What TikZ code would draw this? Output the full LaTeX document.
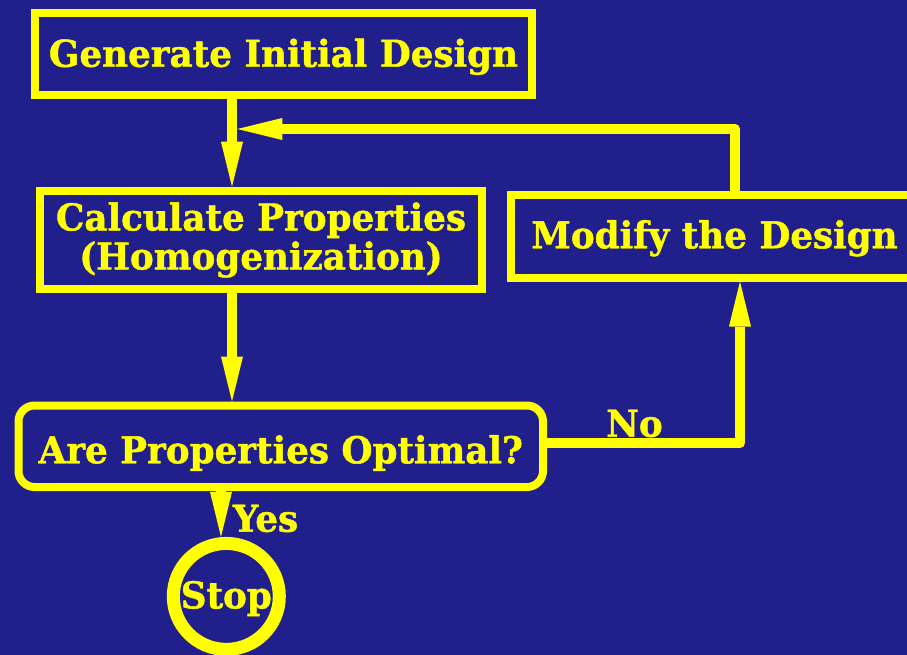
\documentclass[tikz,border=0pt]{standalone}
\usepackage{fontspec}
\setmainfont{DejaVu Serif}[FakeStretch=0.965, BoldFeatures={FakeBold=1.2}]
\usetikzlibrary{arrows.meta}
\definecolor{bgblue}{RGB}{33,31,140}
\definecolor{ylw}{RGB}{255,255,0}
\tikzset{
  lbl/.style={text=ylw, font=\bfseries\fontsize{37}{39}\selectfont, inner sep=0pt},
  boxnode/.style={lbl, draw=ylw, line width=8pt, rectangle, align=center},
  conn/.style={draw=ylw, line width=10.5pt, line join=round,
    -{Triangle[length=45pt,width=22pt,line width=0pt]}},
}
\begin{document}
\begin{tikzpicture}[x=1pt,y=-1pt]
\fill[bgblue] (0,0) rectangle (907,655);
\useasboundingbox (0,0) rectangle (907,655);

\node[boxnode, minimum width=497pt, minimum height=82.5pt, text height=32pt, text depth=7pt] (gen) at (283.5,54.25) {Generate Initial Design};
\node[boxnode, minimum width=442pt, minimum height=98.5pt] (calc) at (261,240) {Calculate Properties\\(Homogenization)};
\node[boxnode, minimum width=407pt, minimum height=82.5pt, text height=31pt, text depth=7pt] (mod) at (714.5,236.25) {Modify the Design};
\node[boxnode, rounded corners=16pt, minimum width=524.5pt, minimum height=81.5pt, text height=40pt, text depth=6pt] (dec) at (280.75,446.25) {Are Properties Optimal?};
\node[lbl, draw=ylw, line width=13pt, circle, minimum size=106pt, text height=31pt, text depth=7pt] (stop) at (226.3,596.4) {Stop};

\coordinate (vx) at (232,0);
\coordinate (join) at (237.3,129);
\coordinate (fbx) at (735,0);
\coordinate (nox) at (740,443);
\coordinate (yx) at (221,0);

\draw[conn] (gen.south -| vx) -- (calc.north -| vx);
\draw[conn] (calc.south -| vx) -- (dec.north -| vx);
\draw[conn] (mod.north -| fbx) |- (join);
\draw[conn] (dec.east |- nox) -| (mod.south -| nox);
\draw[conn] (dec.south -| yx) -- (stop.north -| yx);

\node[lbl, anchor=base] (yes) at (265.5,531.7) {Yes};
\node[lbl, anchor=base] (no) at (634.5,436.7) {No};
\end{tikzpicture}
\end{document}
